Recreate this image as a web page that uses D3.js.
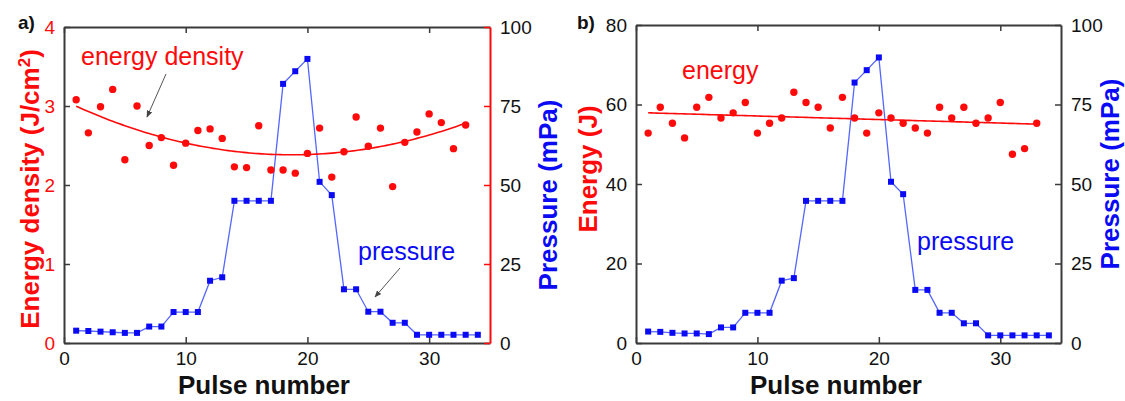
<!DOCTYPE html>
<html>
<head>
<meta charset="utf-8">
<script src="https://cdn.jsdelivr.net/npm/d3@7/dist/d3.min.js"></script>
<style>
body { margin: 0; padding: 0; background: #fff; }
svg  { display: block; font-family: "Liberation Sans", Arial, sans-serif; }
</style>
</head>
<body>
<script>
// pulse numbers (x axis)
var pulses = [1,2,3,4,5,6,7,8,9,10,11,12,13,14,15,16,17,18,19,20,21,22,23,24,25,26,27,28,29,30,31,32,33,34];

// panel a) energy density, J/cm2 (pulses 1..33)
var energyDensity = [3.08,2.66,2.99,3.21,2.32,3.00,2.50,2.60,2.25,2.53,2.69,2.71,2.59,2.23,2.22,2.75,
                     2.19,2.19,2.15,2.40,2.72,2.10,2.42,2.86,2.49,2.72,1.98,2.54,2.67,2.90,2.79,2.46,2.76];
// panel a) pressure, mPa (pulses 1..34)
var pressureA = [3.9,3.8,3.6,3.4,3.2,3.2,5.2,5.2,9.8,9.8,9.8,19.7,20.8,45,45,45,45,82,86,89.9,
                 51,46.8,17,17,9.9,9.9,6.4,6.4,2.6,2.6,2.6,2.6,2.6,2.6];

// panel b) energy, J (pulses 1..33)
var energyJ = [52.8,59.3,55.3,51.6,59.3,61.8,56.6,57.9,60.5,52.8,55.3,56.6,63.1,60.5,59.3,54.1,
               61.8,56.6,52.8,57.9,56.6,55.3,54.1,52.8,59.3,56.6,59.3,55.3,56.6,60.5,47.5,48.9,55.3];
// panel b) pressure, mPa (pulses 1..34)
var pressureB = [3.6,3.5,3.2,3.0,3.0,2.8,4.9,4.9,9.5,9.5,9.5,19.6,20.4,44.7,44.7,44.7,44.7,81.9,85.8,89.8,
                 50.7,46.8,16.7,16.7,9.5,9.5,6.2,6.2,2.4,2.4,2.4,2.4,2.4,2.4];

// tick labels
var xTicks        = [0,10,20,30];
var densityTicks  = [0,1,2,3,4];
var energyTicks   = [0,20,40,60,80];
var pressureTicks = [0,25,50,75,100];

var RED  = "#ff0a0a";
var BLUE = "#0a0af5";
var AXIS = "#3a3a3a";

var svg = d3.select("body").append("svg")
  .attr("width", 1125)
  .attr("height", 401);

svg.append("rect").attr("width",1125).attr("height",401).attr("fill","#fff");

var defs = svg.append("defs");
defs.append("marker")
  .attr("id","arrow")
  .attr("viewBox","0 0 10 10")
  .attr("refX",9).attr("refY",5)
  .attr("markerWidth",7).attr("markerHeight",7)
  .attr("orient","auto")
  .append("path").attr("d","M0,1 L10,5 L0,9 z").attr("fill","#444");

// least squares polynomial fit, returns coefficients c0..cn
function polyfit(xs, ys, deg) {
  var n = deg + 1, A = [], i, j, k;
  for (i = 0; i < n; i++) {
    A.push([]);
    for (j = 0; j < n; j++) A[i].push(d3.sum(xs, function(x){ return Math.pow(x, i + j); }));
    A[i].push(d3.sum(xs, function(x, m){ return Math.pow(x, i) * ys[m]; }));
  }
  for (i = 0; i < n; i++) {
    for (k = i + 1; k < n; k++) {
      var f = A[k][i] / A[i][i];
      for (j = i; j <= n; j++) A[k][j] -= f * A[i][j];
    }
  }
  var c = new Array(n);
  for (i = n - 1; i >= 0; i--) {
    var s = A[i][n];
    for (j = i + 1; j < n; j++) s -= A[i][j] * c[j];
    c[i] = s / A[i][i];
  }
  return c;
}

function drawPanel(p) {
  var x  = d3.scaleLinear().domain([0,35]).range([p.left, p.right]);
  var yL = d3.scaleLinear().domain([0, p.leftMax]).range([p.bottom, p.top]);
  var yR = d3.scaleLinear().domain([0,100]).range([p.bottom, p.top]);
  var g  = svg.append("g");

  // axes
  var bottom = g.append("g").attr("transform","translate(0," + p.bottom + ")")
    .call(d3.axisBottom(x).tickValues(xTicks).tickSizeInner(-6).tickSizeOuter(0).tickPadding(9));
  var top = g.append("g").attr("transform","translate(0," + p.top + ")")
    .call(d3.axisTop(x).tickValues(xTicks).tickSizeInner(-6).tickSizeOuter(0).tickFormat(""));
  var left = g.append("g").attr("transform","translate(" + p.left + ",0)")
    .call(d3.axisLeft(yL).tickValues(p.leftTicks).tickFormat(d3.format("d"))
      .tickSizeInner(-6).tickSizeOuter(0).tickPadding(9));
  var right = g.append("g").attr("transform","translate(" + p.right + ",0)")
    .call(d3.axisRight(yR).tickValues(pressureTicks).tickFormat(d3.format("d"))
      .tickSizeInner(-6).tickSizeOuter(0).tickPadding(10));

  [bottom, top, left, right].forEach(function(a){
    a.selectAll("path.domain").attr("stroke", AXIS).attr("stroke-width", 2);
    a.selectAll(".tick line").attr("stroke", AXIS).attr("stroke-width", 1.5);
    a.selectAll("text").attr("font-family","Liberation Sans, Arial, sans-serif")
      .attr("font-size", 19).attr("fill", "#111");
  });
  left.selectAll("text").attr("fill", p.leftLabelColor);
  right.selectAll("path.domain").attr("stroke", p.rightColor);
  right.selectAll(".tick line").attr("stroke", p.rightColor);

  // pressure line + squares
  var line = d3.line().x(function(d,i){ return x(pulses[i]); }).y(function(d){ return yR(d); });
  g.append("path").datum(p.pressure)
    .attr("d", line).attr("fill","none").attr("stroke","#5566ff").attr("stroke-width",1.3);
  g.selectAll("rect.sq").data(p.pressure).join("rect").attr("class","sq")
    .attr("x", function(d,i){ return x(pulses[i]) - 3; })
    .attr("y", function(d){ return yR(d) - 3; })
    .attr("width", 6).attr("height", 6).attr("fill", BLUE);

  // fit of left series
  var xs = pulses.slice(0, p.left_values.length);
  var c  = polyfit(xs, p.left_values, p.fitDegree);
  var fitPts = d3.range(xs[0], xs[xs.length-1] + 0.001, 0.25).map(function(t){
    return [t, d3.sum(c, function(ci, k){ return ci * Math.pow(t, k); })];
  });
  g.append("path").datum(fitPts)
    .attr("d", d3.line().x(function(d){ return x(d[0]); }).y(function(d){ return yL(d[1]); }))
    .attr("fill","none").attr("stroke", RED).attr("stroke-width", 1.6);

  // dots
  g.selectAll("circle.dot").data(p.left_values).join("circle").attr("class","dot")
    .attr("cx", function(d,i){ return x(xs[i]); })
    .attr("cy", function(d){ return yL(d); })
    .attr("r", 3.7).attr("fill", RED);

  // axis titles
  g.append("text").attr("x", p.xTitleX).attr("y", 394).attr("text-anchor","middle")
    .attr("font-size", 26).attr("font-weight","bold").attr("fill","#111").text("Pulse number");

  var lt = g.append("text").attr("transform","translate(" + p.leftTitleX + "," + p.leftTitleY + ") rotate(-90)")
    .attr("dy","0.36em").attr("text-anchor","middle")
    .attr("font-size", 26).attr("font-weight","bold").attr("fill", RED);
  lt.append("tspan").text(p.leftTitle);
  if (p.leftTitleSup) {
    lt.append("tspan").attr("baseline-shift","super").attr("font-size",17).text(p.leftTitleSup);
    lt.append("tspan").attr("baseline-shift","0").text(")");
  }

  g.append("text").attr("transform","translate(" + p.rightTitleX + "," + p.rightTitleY + ") rotate(-90)")
    .attr("dy","0.36em").attr("text-anchor","middle")
    .attr("font-size", 26).attr("font-weight","bold").attr("fill", BLUE).text("Pressure (mPa)");

  g.append("text").attr("x", p.tagX).attr("y", 29)
    .attr("font-size", 19).attr("font-weight","bold").attr("fill","#111").text(p.tag);

  // annotations
  p.notes.forEach(function(n){
    g.append("text").attr("x", n.x).attr("y", n.y).attr("font-size", 25)
      .attr("fill", n.color).text(n.text);
    if (n.arrow) {
      g.append("line").attr("x1", n.arrow[0]).attr("y1", n.arrow[1])
        .attr("x2", n.arrow[2]).attr("y2", n.arrow[3])
        .attr("stroke","#555").attr("stroke-width",1).attr("marker-end","url(#arrow)");
    }
  });
}

drawPanel({
  tag: "a)", tagX: 18,
  left: 64, right: 490, top: 27, bottom: 343,
  leftMax: 4, leftTicks: densityTicks, leftLabelColor: RED, rightColor: RED,
  left_values: energyDensity, fitDegree: 2, pressure: pressureA,
  leftTitle: "Energy density (J/cm", leftTitleSup: "2", leftTitleX: 30, leftTitleY: 189,
  rightTitleX: 548, rightTitleY: 195, xTitleX: 264,
  notes: [
    {text: "energy density", x: 81, y: 65, color: RED, arrow: [166, 74, 147, 117]},
    {text: "pressure", x: 358, y: 260, color: BLUE, arrow: [400, 268, 375, 297]}
  ]
});

drawPanel({
  tag: "b)", tagX: 577,
  left: 636, right: 1061, top: 25, bottom: 343,
  leftMax: 80, leftTicks: energyTicks, leftLabelColor: "#111", rightColor: AXIS,
  left_values: energyJ, fitDegree: 1, pressure: pressureB,
  leftTitle: "Energy (J)", leftTitleSup: null, leftTitleX: 588, leftTitleY: 169,
  rightTitleX: 1110, rightTitleY: 174, xTitleX: 836,
  notes: [
    {text: "energy", x: 682, y: 79, color: RED},
    {text: "pressure", x: 917, y: 250, color: BLUE}
  ]
});
</script>
</body>
</html>
